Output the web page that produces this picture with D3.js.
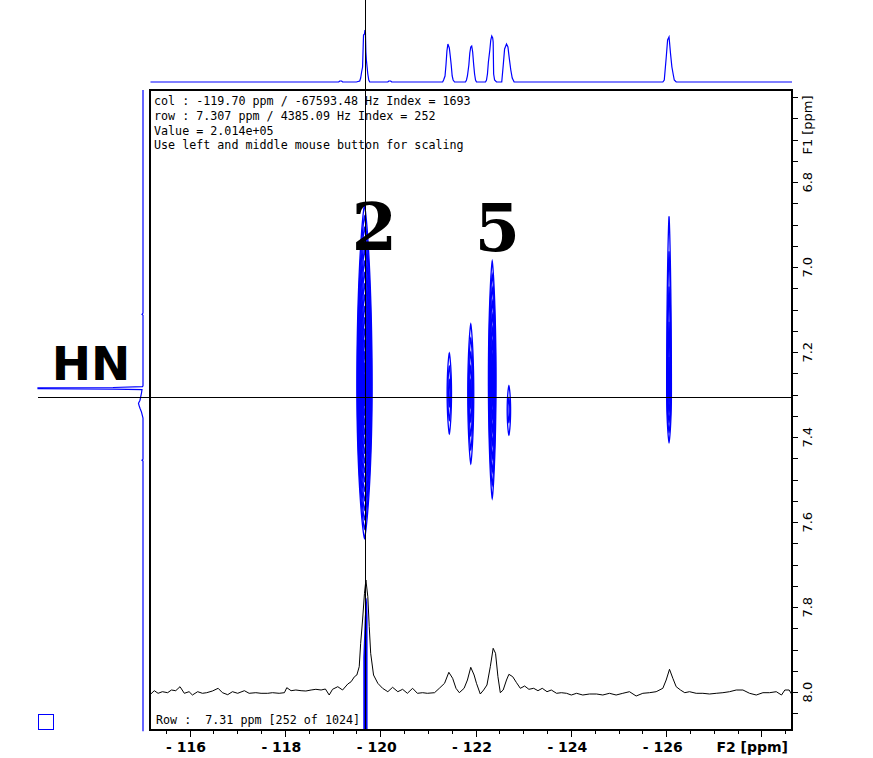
<!DOCTYPE html>
<html>
<head>
<meta charset="utf-8">
<script src="https://cdn.jsdelivr.net/npm/d3@7"></script>
<style>
body { margin: 0; background: #fff; }
svg { display: block; }
.info { font-family: "DejaVu Sans Mono", monospace; font-size: 11.7px; fill: #000; white-space: pre; }
.f2lab { font-family: "DejaVu Sans", sans-serif; font-weight: bold; font-size: 14px; fill: #000; }
.f1lab { font-family: "DejaVu Sans", sans-serif; font-size: 13px; fill: #000; }
</style>
</head>
<body>
<svg id="fig" width="873" height="758"></svg>
<script>
// ---- data ----
// 2D cross peaks (F2 = 15N ppm, F1 = 1H ppm), contour outer extents
const peakF2 = [-119.67, -121.45, -121.90, -122.35, -122.70, -126.06];
const peakF1 = [7.280, 7.296, 7.298, 7.265, 7.336, 7.294];
const peakHalfF2 = [0.16, 0.046, 0.063, 0.080, 0.036, 0.050];
const peakUpF1 = [0.426, 0.094, 0.164, 0.279, 0.057, 0.414];
const peakDownF1 = [0.358, 0.096, 0.164, 0.279, 0.059, 0.118];
const peakLevels = [16, 3, 5, 9, 2, 5];

// top (F2) projection
const topPpm = [-115.18,-119.13,-119.15,-119.19,-119.21,
  -119.50,-119.57,-119.59,-119.61,-119.63,-119.65,-119.67,-119.68,-119.69,-119.70,-119.71,-119.74,-119.76,-119.78,
  -120.16,-120.18,-120.22,-120.24,
  -121.31,-121.33,-121.36,-121.38,-121.40,-121.42,-121.45,-121.47,-121.49,-121.51,-121.53,-121.56,
  -121.79,-121.81,-121.83,-121.86,-121.88,-121.90,-121.92,-121.94,-121.96,-121.98,-122.00,-122.02,
  -122.21,-122.23,-122.25,-122.27,-122.30,-122.32,-122.34,-122.36,-122.37,-122.38,-122.40,-122.44,
  -122.55,-122.58,-122.61,-122.65,-122.68,-122.71,-122.74,-122.77,-122.81,
  -125.93,-125.96,-126.00,-126.03,-126.06,-126.07,-126.09,-126.12,-126.15,-126.17,-126.21,
  -128.64];
const topInt = [0,0,1,1,0,
  0,1,4,10,15,47,48,52,50,30,22,8,2,0,
  0,1,1,0,
  0,2,6,17,31,38,34,26,17,6,2,0,
  0,2,6,17,29,35,36,30,18,8,2,0,
  0,2,8,20,32,42,46,44,40,8,2,0,
  0,16,33,38,35,23,12,4,0,
  0,2,24,42,45,40,29,15,7,2,0,
  0];

// left (F1) projection
const leftPpm = [6.583, 7.108, 7.111, 7.113, 7.279, 7.281, 7.283, 7.284, 7.286, 7.287, 7.288,
  7.296, 7.313, 7.320, 7.325, 7.332, 7.341, 7.355, 7.452, 7.454, 7.456, 8.092];
const leftInt = [0, 0, 1, 0, 0, 0.5, 30, 105, 105, 30, 1, 1.5, 3, 4.5, 4, 3, 1.5, 0, 0, 1, 0, 0];

// row slice at 7.31 ppm
const rowPpm = [-115.18,-115.26,-115.34,-115.43,-115.54,-115.62,-115.71,-115.80,-115.89,-115.99,
  -116.06,-116.17,-116.27,-116.36,-116.48,-116.60,-116.69,-116.80,-116.90,-117.01,
  -117.15,-117.25,-117.39,-117.50,-117.64,-117.74,-117.88,-117.99,-118.04,-118.13,
  -118.23,-118.34,-118.44,-118.55,-118.65,-118.76,-118.85,-118.93,-119.00,-119.11,
  -119.21,-119.32,-119.39,-119.46,-119.51,-119.56,-119.59,-119.63,-119.67,-119.70,
  -119.74,-119.77,-119.80,-119.86,-119.95,-120.05,-120.16,-120.26,-120.37,-120.47,
  -120.57,-120.68,-120.78,-120.89,-120.99,-121.14,-121.24,-121.35,-121.44,-121.52,
  -121.59,-121.66,-121.76,-121.83,-121.90,-121.97,-122.02,-122.10,-122.17,-122.24,
  -122.31,-122.37,-122.42,-122.47,-122.52,-122.58,-122.65,-122.70,-122.78,-122.86,
  -122.94,-123.03,-123.12,-123.22,-123.31,-123.40,-123.50,-123.59,-123.70,-123.80,
  -123.91,-124.01,-124.12,-124.25,-124.39,-124.54,-124.67,-124.81,-124.95,-125.09,
  -125.23,-125.37,-125.51,-125.65,-125.79,-125.93,-126.00,-126.07,-126.14,-126.21,
  -126.30,-126.39,-126.49,-126.63,-126.77,-126.91,-127.05,-127.19,-127.33,-127.47,
  -127.61,-127.75,-127.89,-128.03,-128.17,-128.31,-128.42,-128.49,-128.58,-128.63];
const rowInt = [-1.3,2.3,-0.3,1.3,0.3,3,2.3,6.3,-0.3,1.3,
  -2,1.3,-0.3,0.3,2,4.7,0.3,-1.7,1.3,-0.3,
  2.3,-0.3,0.3,-0.3,-0.3,0.3,-0.3,0.3,5.3,2.3,
  3,2.3,2,3,3.7,3,4,-2,3.7,6.3,
  3,9,11.3,16.3,18,26.3,49.7,73,99.7,113,
  96.3,66.3,39.7,18,9.7,4.7,1.3,5.7,1.3,3.7,
  -0.3,4.7,-0.3,0.3,-0.3,0.3,4.7,9.7,20.7,14.7,
  4.7,0.3,4.7,13,25.7,18,9.7,-1,3,8,
  26.3,44.7,39.7,16.3,0.3,3,13,18.7,16.3,10.3,
  4.7,7,3.7,4.7,2.3,4.7,1.3,3,-0.3,0.3,
  -0.3,-2,-0.3,-2,-1,-1,-2,-0.3,-2,-0.3,
  1.3,-3,-0.3,0.3,1.3,4.7,13,23.7,14.7,6.3,
  3,0.3,1.3,-0.3,-0.3,-1,-0.3,0.3,1.3,3,
  3,-0.3,-2,0.3,0.3,1.3,-2,3,3,-1];

// cursor column band below the 2D region
const bandF1 = [7.779, 7.824, 7.873, 7.918, 8.089];
const bandLeftF2 = [-119.71, -119.675, -119.66, -119.645, -119.645];
const bandRightF2 = [-119.725, -119.735, -119.735, -119.735, -119.735];

// cursor
const cursorF2 = -119.70;
const cursorF1 = 7.307;

// axes
const f2Major = [-116, -118, -120, -122, -124, -126, -128];
const f2MajorLabels = ["- 116", "- 118", "- 120", "- 122", "- 124", "- 126", ""];
const f2Minor = d3.range(-115.5, -128.6, -0.5);
const f1Labeled = [6.8, 7.0, 7.2, 7.4, 7.6, 7.8, 8.0];
const f1LabelText = ["6.8", "7.0", "7.2", "7.4", "7.6", "7.8", "8.0"];
const f1Minor = d3.range(6.6, 8.06, 0.05);

const infoLines = [
  "col : -119.70 ppm / -67593.48 Hz Index = 1693",
  "row : 7.307 ppm / 4385.09 Hz Index = 252",
  "Value = 2.014e+05",
  "Use left and middle mouse button for scaling"
];
const rowLabel = "Row :  7.31 ppm [252 of 1024]";

// peak labels
const labelText = ["2", "5"];
const labelF2 = [-119.88, -122.46];
const labelF1 = [6.960, 6.962];

// ---- drawing ----
const plotL = 150, plotR = 792, plotT = 90, plotB = 730;
const blue = "#0000ff";

const x = d3.scaleLinear().domain([-115.17, -128.64]).range([plotL, plotR]);
const y = d3.scaleLinear().domain([6.583, 8.089]).range([plotT, plotB]);
const topY = d3.scaleLinear().domain([0, 52]).range([82, 30]);
const leftX = d3.scaleLinear().domain([0, 105]).range([143, 38]);
const rowY = d3.scaleLinear().domain([0, 113]).range([693, 580]);

const Fig = d3.select("#fig");

// contours: nested lens-shaped rings, pointed at the F1 ends
const ring = d3.line().curve(d3.curveLinearClosed);
const contourG = Fig.append("g");
peakF2.forEach((f2, i) => {
  const n = peakLevels[i];
  for (let k = 0; k < n; k++) {
    const s = 1 - k / n;
    const pts = d3.range(0, 120).map(j => {
      const t = j / 120 * 2 * Math.PI;
      const c = Math.cos(t), sn = Math.sin(t);
      const cw = Math.sign(c) * Math.pow(Math.abs(c), 1.5);
      const ry = sn < 0 ? peakUpF1[i] : peakDownF1[i];
      return [x(f2 + peakHalfF2[i] * s * cw), y(peakF1[i] + ry * s * sn)];
    });
    contourG.append("path")
      .attr("d", ring(pts))
      .attr("fill", "none")
      .attr("stroke", blue)
      .attr("stroke-width", 1.3);
  }
});

// band under the cursor column
Fig.append("path")
  .datum(bandF1.map((f1, i) => ({ f1, l: bandLeftF2[i], r: bandRightF2[i] })))
  .attr("d", d3.area().y(d => y(d.f1)).x0(d => x(d.l)).x1(d => x(d.r)))
  .attr("fill", blue);

// top projection
Fig.append("path")
  .datum(topPpm.map((p, i) => [p, topInt[i]]))
  .attr("d", d3.line().x(d => x(d[0])).y(d => topY(d[1])))
  .attr("fill", "none")
  .attr("stroke", blue)
  .attr("stroke-width", 1.2);

// left projection
Fig.append("path")
  .datum(leftPpm.map((p, i) => [p, leftInt[i]]))
  .attr("d", d3.line().x(d => leftX(d[1])).y(d => y(d[0])))
  .attr("fill", "none")
  .attr("stroke", blue)
  .attr("stroke-width", 1.2);

// row trace
Fig.append("path")
  .datum(rowPpm.map((p, i) => [p, rowInt[i]]))
  .attr("d", d3.line().x(d => x(d[0])).y(d => rowY(d[1])))
  .attr("fill", "none")
  .attr("stroke", "#000")
  .attr("stroke-width", 1);

// frame
Fig.append("rect")
  .attr("x", plotL).attr("y", plotT)
  .attr("width", plotR - plotL).attr("height", plotB - plotT)
  .attr("fill", "none")
  .attr("stroke", "#000")
  .attr("stroke-width", 1.2)
  .attr("shape-rendering", "crispEdges");

// cursor lines
Fig.append("line")
  .attr("x1", x(cursorF2)).attr("x2", x(cursorF2))
  .attr("y1", 0).attr("y2", plotB)
  .attr("stroke", "#000").attr("stroke-width", 1)
  .attr("shape-rendering", "crispEdges");
Fig.append("line")
  .attr("x1", leftX(105)).attr("x2", plotR)
  .attr("y1", y(cursorF1)).attr("y2", y(cursorF1))
  .attr("stroke", "#000").attr("stroke-width", 1)
  .attr("shape-rendering", "crispEdges");

// bottom axis (F2)
const minorAxis = d3.axisBottom(x).tickValues(f2Minor).tickSize(4).tickFormat("");
const majorAxis = d3.axisBottom(x).tickValues(f2Major).tickSize(7).tickPadding(5)
  .tickFormat((d, i) => f2MajorLabels[i]);
const gMinor = Fig.append("g").attr("transform", `translate(0,${plotB})`).call(minorAxis);
const gMajor = Fig.append("g").attr("transform", `translate(0,${plotB})`).call(majorAxis);
[gMinor, gMajor].forEach(g => {
  g.select(".domain").remove();
  g.selectAll("line").attr("shape-rendering", "crispEdges");
});
gMajor.selectAll("text").attr("class", "f2lab").attr("dx", "-4");

Fig.append("text")
  .attr("class", "f2lab")
  .attr("x", 788).attr("y", 752)
  .attr("text-anchor", "end")
  .text("F2 [ppm]");

// right axis (F1)
const rightAxis = d3.axisRight(y).tickValues(f1Minor).tickSize(6).tickFormat("");
const gRight = Fig.append("g").attr("transform", `translate(${plotR},0)`).call(rightAxis);
gRight.select(".domain").remove();
gRight.selectAll("line").attr("shape-rendering", "crispEdges");

Fig.selectAll(".f1tick")
  .data(f1Labeled)
  .join("text")
  .attr("class", "f1lab")
  .attr("transform", d => `translate(812,${y(d)}) rotate(-90)`)
  .attr("text-anchor", "middle")
  .text((d, i) => f1LabelText[i]);

Fig.append("text")
  .attr("class", "f1lab")
  .attr("transform", "translate(812,125) rotate(-90)")
  .attr("text-anchor", "middle")
  .text("F1 [ppm]");

// info text
Fig.selectAll(".infoline")
  .data(infoLines)
  .join("text")
  .attr("class", "info")
  .attr("x", 154)
  .attr("y", (d, i) => 105 + i * 14.8)
  .text(d => d);

Fig.append("text")
  .attr("class", "info")
  .attr("x", 156).attr("y", 724)
  .text(rowLabel);

// peak number labels
Fig.selectAll(".peaklab")
  .data(labelText)
  .join("text")
  .attr("x", (d, i) => x(labelF2[i]))
  .attr("y", (d, i) => y(labelF1[i]))
  .attr("text-anchor", "middle")
  .attr("font-family", "DejaVu Serif, serif")
  .attr("font-weight", "bold")
  .attr("font-size", 65)
  .attr("fill", "#000")
  .text(d => d);

// HN label
Fig.append("text")
  .attr("x", 91).attr("y", 380)
  .attr("text-anchor", "middle")
  .attr("font-family", "DejaVu Sans, sans-serif")
  .attr("font-weight", "bold")
  .attr("font-size", 47)
  .attr("fill", "#000")
  .text("HN");

// small square marker
Fig.append("rect")
  .attr("x", 38.5).attr("y", 714.5)
  .attr("width", 15).attr("height", 15)
  .attr("fill", "none")
  .attr("stroke", blue)
  .attr("stroke-width", 1);
</script>
</body>
</html>
